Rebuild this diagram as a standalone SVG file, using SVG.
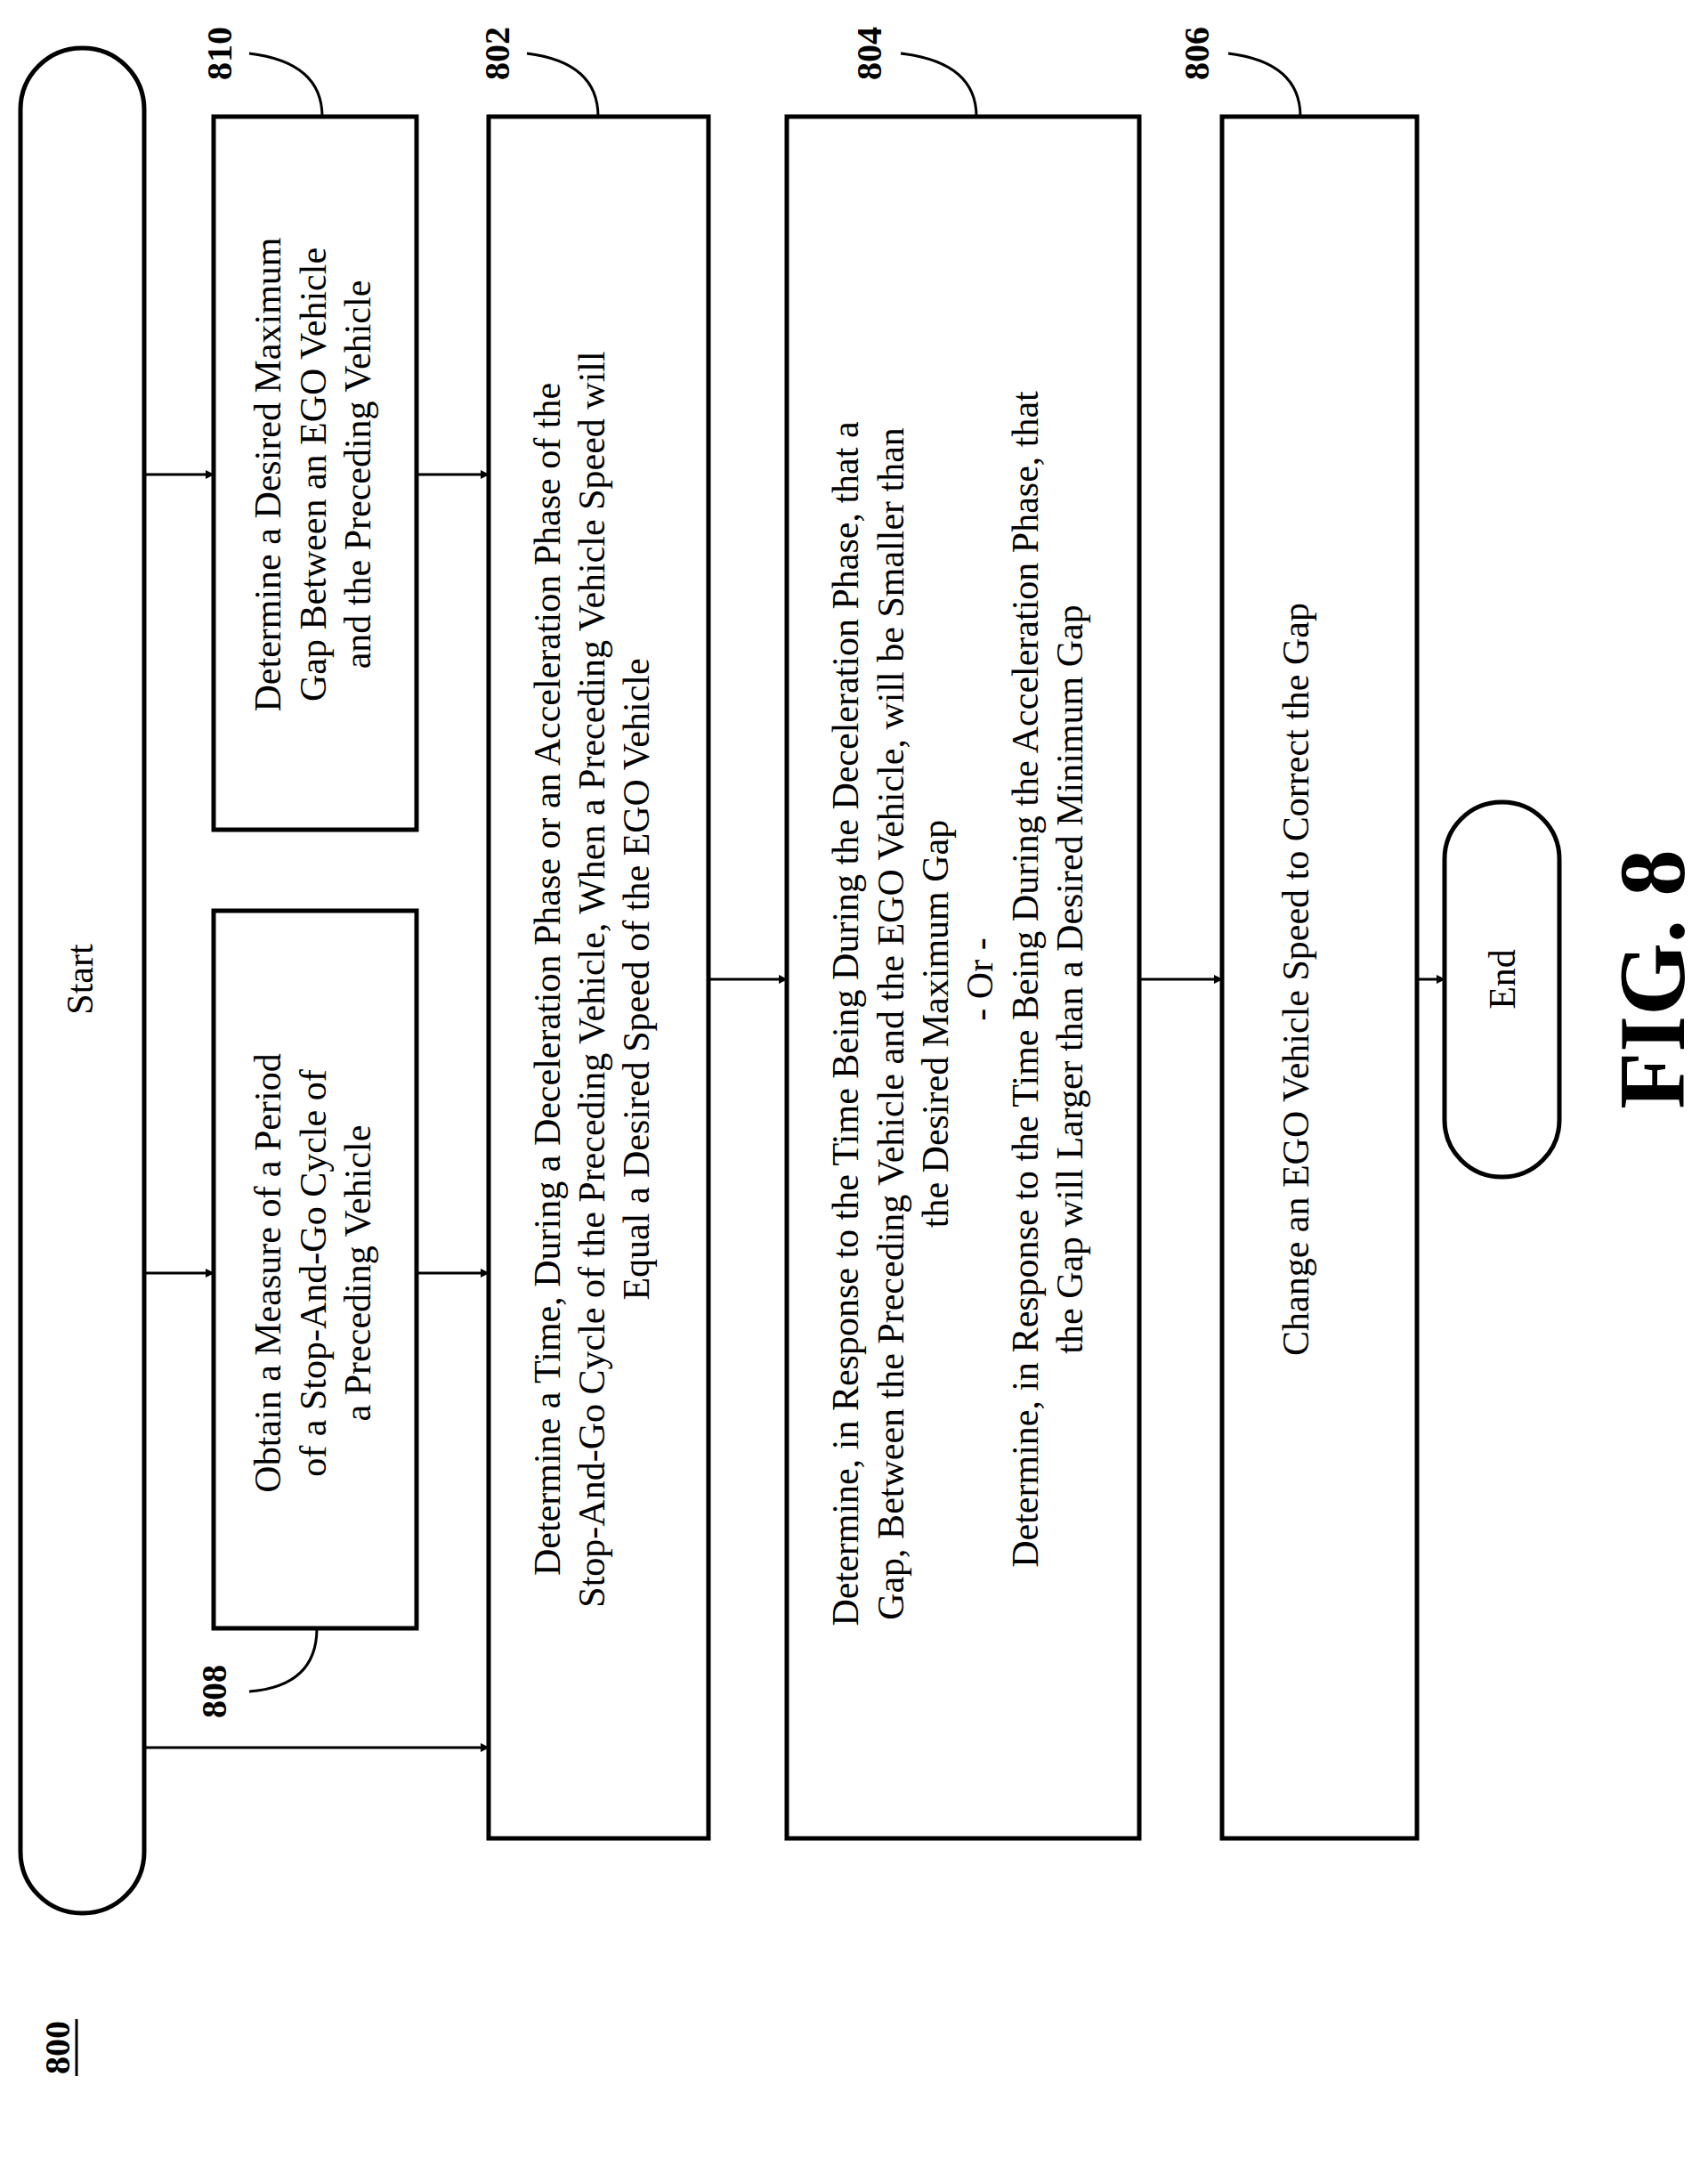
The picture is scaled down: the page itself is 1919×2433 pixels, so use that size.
<svg xmlns="http://www.w3.org/2000/svg" width="1919" height="2433" viewBox="0 0 1919 2433">
<style>
.b{fill:none;stroke:#000;stroke-width:5}
.c{fill:none;stroke:#000;stroke-width:3}
.t{font-family:"Liberation Serif",serif;font-size:42px;text-anchor:middle;fill:#000}
.l{font-family:"Liberation Serif",serif;font-size:40px;font-weight:bold;text-anchor:middle;fill:#000}
</style>
<defs><marker id="a" markerWidth="10" markerHeight="10" refX="9" refY="5" orient="auto" markerUnits="userSpaceOnUse"><path d="M0,0 L10,5 L0,10 Z" fill="#000"/></marker></defs>
<rect width="1919" height="2433" fill="#fff"/>
<g id="start"><rect class="b" x="23" y="54" width="139" height="2095" rx="69"/><text class="t" transform="translate(104,1100) rotate(-90)">Start</text></g>
<g id="n808"><rect class="b" x="240" y="1023" width="228" height="806"/>
<text class="t" transform="translate(315,1430) rotate(-90)">Obtain a Measure of a Period</text>
<text class="t" transform="translate(366,1430) rotate(-90)">of a Stop-And-Go Cycle of</text>
<text class="t" transform="translate(416,1430) rotate(-90)">a Preceding Vehicle</text>
<text class="l" transform="translate(254,1900) rotate(-90)">808</text>
<path class="c" d="M280,1900 Q356,1894 356,1829"/></g>
<g id="n810"><rect class="b" x="240" y="131" width="228" height="801"/>
<text class="t" transform="translate(315,533) rotate(-90)">Determine a Desired Maximum</text>
<text class="t" transform="translate(366,533) rotate(-90)">Gap Between an EGO Vehicle</text>
<text class="t" transform="translate(416,533) rotate(-90)">and the Preceding Vehicle</text>
<text class="l" transform="translate(260,60) rotate(-90)">810</text>
<path class="c" d="M280,60 Q362,70 362,131"/></g>
<g id="n802"><rect class="b" x="549" y="131" width="247" height="1934"/>
<text class="t" transform="translate(629,1100) rotate(-90)">Determine a Time, During a Deceleration Phase or an Acceleration Phase of the</text>
<text class="t" transform="translate(679,1100) rotate(-90)">Stop-And-Go Cycle of the Preceding Vehicle, When a Preceding Vehicle Speed will</text>
<text class="t" transform="translate(729,1100) rotate(-90)">Equal a Desired Speed of the EGO Vehicle</text>
<text class="l" transform="translate(572,60) rotate(-90)">802</text>
<path class="c" d="M592,60 Q672,70 672,131"/></g>
<g id="n804"><rect class="b" x="884" y="131" width="396" height="1934"/>
<text class="t" transform="translate(964,1150) rotate(-90)">Determine, in Response to the Time Being During the Deceleration Phase, that a</text>
<text class="t" transform="translate(1015,1150) rotate(-90)">Gap, Between the Preceding Vehicle and the EGO Vehicle, will be Smaller than</text>
<text class="t" transform="translate(1065,1150) rotate(-90)">the Desired Maximum Gap</text>
<text class="t" transform="translate(1115,1100) rotate(-90)">- Or -</text>
<text class="t" transform="translate(1166,1100) rotate(-90)">Determine, in Response to the Time Being During the Acceleration Phase, that</text>
<text class="t" transform="translate(1216,1100) rotate(-90)">the Gap will Larger than a Desired Minimum Gap</text>
<text class="l" transform="translate(990,60) rotate(-90)">804</text>
<path class="c" d="M1012,60 Q1097,70 1097,131"/></g>
<g id="n806"><rect class="b" x="1373" y="131" width="219" height="1934"/>
<text class="t" transform="translate(1470,1100) rotate(-90)">Change an EGO Vehicle Speed to Correct the Gap</text>
<text class="l" transform="translate(1358,60) rotate(-90)">806</text>
<path class="c" d="M1380,60 Q1461,70 1461,131"/></g>
<g id="end"><rect class="b" x="1623" y="901" width="129" height="421" rx="64"/><text class="t" transform="translate(1702,1100) rotate(-90)">End</text></g>
<g id="connectors">
<line class="c" x1="162" y1="533" x2="240" y2="533" marker-end="url(#a)"/>
<line class="c" x1="162" y1="1430" x2="240" y2="1430" marker-end="url(#a)"/>
<line class="c" x1="162" y1="1963" x2="549" y2="1963" marker-end="url(#a)"/>
<line class="c" x1="468" y1="533" x2="549" y2="533" marker-end="url(#a)"/>
<line class="c" x1="468" y1="1430" x2="549" y2="1430" marker-end="url(#a)"/>
<line class="c" x1="796" y1="1100" x2="884" y2="1100" marker-end="url(#a)"/>
<line class="c" x1="1280" y1="1100" x2="1373" y2="1100" marker-end="url(#a)"/>
<line class="c" x1="1592" y1="1100" x2="1623" y2="1100" marker-end="url(#a)"/>
</g>
<text font-family="Liberation Serif,serif" font-size="105" font-weight="bold" text-anchor="middle" transform="translate(1892,1100) rotate(-90)">FIG. 8</text>
<text class="l" transform="translate(78,2300) rotate(-90)">800</text>
<line class="c" x1="86" y1="2268" x2="86" y2="2332"/>
</svg>
